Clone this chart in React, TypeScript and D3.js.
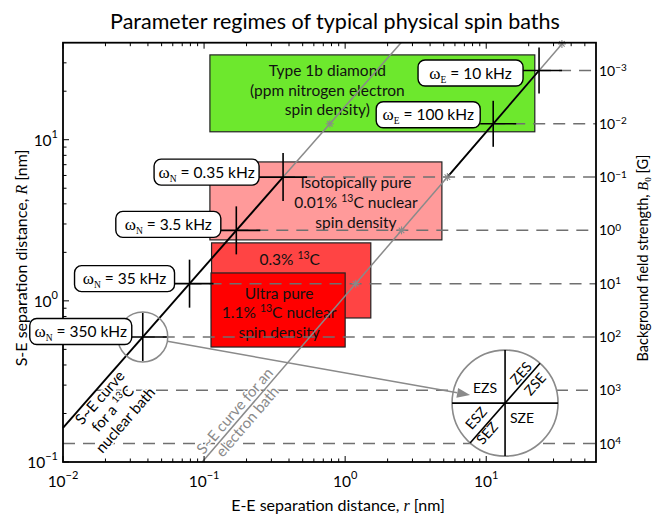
import React from 'react';
import * as d3 from 'd3';

// ---------- data ----------
const rRange = [0.01, 60]; // E-E separation r [nm]
const RRange = [0.1, 40]; // S-E separation R [nm]
const B0Range = [Math.pow(10, 4.347), Math.pow(10, -3.522)]; // background field [G]
const xTickExps = [-2, -1, 0, 1];
const yTickExps = [-1, 0, 1];
const b0Exps = [-3, -2, -1, 0, 1, 2, 3, 4];

// S-E curves (straight in log-log), endpoints (r, R)
const nuclearCurve: [number, number][] = [[0.01, 0.163], [2.49, 40]];
const electronCurve: [number, number][] = [[0.097, 0.1], [34.4, 39.3]];

const nuclearB0 = [100, 10, 1, 0.1];
const nuclearFreq = ['350 kHz', '35 kHz', '3.5 kHz', '0.35 kHz'];
const electronB0 = [0.01, 0.001];
const electronFreq = ['100 kHz', '10 kHz'];
const nuclearStarB0 = [0.01];
const electronStarB0 = [10, 1, 0.1];

const regimeKeys = ['iso', 'mid', 'ultra', 'diamond'];
const regimeRr = [[0.11, 4.85], [0.113, 1.52], [0.112, 1.0], [0.11, 22.1]];
const regimeRR = [[2.39, 7.28], [0.783, 2.29], [0.517, 1.49], [11.2, 33.6]];
const regimeText = [
  ['Isotopically pure', '0.01% ^13^C nuclear', 'spin density'],
  ['0.3% ^13^C'],
  ['Ultra pure', '1.1% ^13^C nuclear', 'spin density'],
  ['Type 1b diamond', '(ppm nitrogen electron', 'spin density)'],
];

const nuclearLabel = ['S~E curve', 'for a ^13^C', 'nuclear bath'];
const electronLabel = ['S~E curve for an', 'electron bath'];
const diagramLabels = ['EZS', 'ZES', 'ZSE', 'ESZ', 'SEZ', 'SZE'];
const diagramCenter = [13.6, 0.232]; // (r, R)

// ---------- styles / layout ----------
const FONT = 'Lato, "Open Sans", sans-serif';
const SERIF = '"Liberation Serif", serif';
const regimeStyle: Record<string, any> = {
  iso: { fill: '#ff9a9a', dx: 30, cy: 2, lh: 20 },
  mid: { fill: '#ff4444', dx: -1.5, cy: -21, lh: 20 },
  ultra: { fill: '#ff0000', dx: 1, cy: 3, lh: 19.5 },
  diamond: { fill: '#6de82d', dx: -45, cy: -3, lh: 19.5 },
};
const nLabelLayout = [
  { gap: 11, dy: -5.5, w: 102 },
  { gap: 15, dy: -5, w: 100 },
  { gap: 15.5, dy: -6, w: 105 },
  { gap: 24, dy: -5, w: 105 },
];
const eLabelLayout = [
  { gap: 13, dy: -9, w: 104 },
  { gap: 16, dy: 2.5, w: 105 },
];
const diagOffsets: Record<string, [number, number, boolean]> = {
  EZS: [-20, -15, false],
  ZES: [16, -30, true],
  ZSE: [30, -19, true],
  ESZ: [-29, 15, true],
  SEZ: [-18, 30, true],
  SZE: [17, 15, false],
};

const GRAY = '#8a8a8a';
const DASH = '#707070';

function rich(str: string, supSize: number, supDy: number) {
  const parts = str.split('^');
  const out: any[] = [];
  let shifted = false;
  parts.forEach((p, i) => {
    if (p === '') return;
    if (i % 2 === 1) {
      out.push(
        <tspan key={i} fontSize={supSize} dy={-supDy}>
          {p}
        </tspan>
      );
      shifted = true;
    } else {
      out.push(
        <tspan key={i} dy={shifted ? supDy : 0}>
          {p}
        </tspan>
      );
      shifted = false;
    }
  });
  return out;
}

export default function App() {
  const L = 63, Rr = 596, T = 42.7, B = 462;
  const x = d3.scaleLog().domain(rRange).range([L, Rr]);
  const y = d3.scaleLog().domain(RRange).range([B, T]);
  const yB = d3.scaleLog().domain(B0Range).range([B, T]);
  const lg = Math.log10;

  const rOnCurve = (c: [number, number][], Rv: number) => {
    const [[r0, R0], [r1, R1]] = c;
    const t = (lg(Rv) - lg(R0)) / (lg(R1) - lg(R0));
    return Math.pow(10, lg(r0) + t * (lg(r1) - lg(r0)));
  };
  const atB0 = (c: [number, number][], b: number): [number, number] => {
    const py = yB(b);
    const Rv = y.invert(py);
    return [x(rOnCurve(c, Rv)), py];
  };
  const px = (c: [number, number]): [number, number] => [x(c[0]), y(c[1])];
  const line = d3.line();

  const nStart = px(nuclearCurve[0]);
  const nEnd = px(nuclearCurve[1]);
  const eStart = px(electronCurve[0]);
  const eEnd = px(electronCurve[1]);
  const nAt01 = atB0(nuclearCurve, 0.1);
  const eAt01 = atB0(electronCurve, 0.1);
  const eAt0001 = atB0(electronCurve, 0.001);
  const ang = (Math.atan2(nEnd[1] - nStart[1], nEnd[0] - nStart[0]) * 180) / Math.PI;
  const angE = (Math.atan2(eEnd[1] - eStart[1], eEnd[0] - eStart[0]) * 180) / Math.PI;

  // ticks
  const xTicks: [number, boolean][] = [];
  for (let e = -2; e <= 1; e++)
    for (let k = 1; k <= 9; k++) {
      const v = k * Math.pow(10, e);
      if (v >= rRange[0] && v < rRange[1]) xTicks.push([v, k === 1]);
    }
  const yTicks: [number, boolean][] = [];
  for (let e = -1; e <= 1; e++)
    for (let k = 1; k <= 9; k++) {
      const v = k * Math.pow(10, e);
      if (v >= RRange[0] && v < RRange[1]) yTicks.push([v, k === 1]);
    }

  // dashed grid lines for B0 decades
  const dashed = b0Exps.map((e) => {
    const b = Math.pow(10, e);
    const py = yB(b);
    let sx: number;
    const ei = electronB0.findIndex((v) => Math.abs(lg(v) - e) < 1e-6);
    if (ei >= 0) sx = atB0(electronCurve, b)[0];
    else sx = Math.max(L, atB0(nuclearCurve, b)[0]);
    return { e, py, sx };
  });

  const star = (c: [number, number], k: string) => {
    const s = 4;
    return (
      <g key={k} stroke={GRAY} strokeWidth={1.1}>
        <line x1={c[0] - s} y1={c[1]} x2={c[0] + s} y2={c[1]} />
        <line x1={c[0]} y1={c[1] - s} x2={c[0]} y2={c[1] + s} />
        <line x1={c[0] - s * 0.7} y1={c[1] - s * 0.7} x2={c[0] + s * 0.7} y2={c[1] + s * 0.7} />
        <line x1={c[0] - s * 0.7} y1={c[1] + s * 0.7} x2={c[0] + s * 0.7} y2={c[1] - s * 0.7} />
      </g>
    );
  };

  const crossLabel = (c: [number, number], sub: string, txt: string, lay: any, k: string, arm: number) => {
    const bx1 = c[0] - lay.gap;
    const bx0 = bx1 - lay.w;
    const cy = c[1] + lay.dy;
    const h = 26;
    return (
      <g key={k}>
        <line x1={bx1} y1={c[1]} x2={c[0] + arm} y2={c[1]} stroke="#000" strokeWidth={1.6} />
        <line x1={c[0]} y1={c[1] - arm} x2={c[0]} y2={c[1] + arm} stroke="#000" strokeWidth={1.6} />
        <rect x={bx0} y={cy - h / 2} width={lay.w} height={h} rx={7} fill="#fff" stroke="#000" strokeWidth={1.4} />
        <text x={(bx0 + bx1) / 2} y={cy + 5.5} textAnchor="middle" fontFamily={FONT} fontSize={15.5}>
          <tspan fontFamily={SERIF} fontSize={17}>ω</tspan>
          <tspan fontFamily={SERIF} fontSize={9.5} dy={4}>{sub}</tspan>
          <tspan dy={-4}>{' = ' + txt}</tspan>
        </text>
      </g>
    );
  };

  const smallC = atB0(nuclearCurve, 100);
  const bigC: [number, number] = [x(diagramCenter[0]), y(diagramCenter[1])];
  const bigR = 53;
  const tip: [number, number] = [bigC[0] - 35, bigC[1] - 8];
  const dv = [tip[0] - smallC[0], tip[1] - smallC[1]];
  const dl = Math.hypot(dv[0], dv[1]);
  const du = [dv[0] / dl, dv[1] / dl];
  const aStart = [smallC[0] + du[0] * 25, smallC[1] + du[1] * 25];
  const ah = 13, aw = 5;
  const base = [tip[0] - du[0] * ah, tip[1] - du[1] * ah];
  const head = `${tip[0]},${tip[1]} ${base[0] - du[1] * aw},${base[1] + du[0] * aw} ${base[0] + du[1] * aw},${base[1] - du[0] * aw}`;

  const radA = (ang * Math.PI) / 180;
  const ux = Math.cos(radA), uy = Math.sin(radA);
  const nAnchor = [nStart[0] + ux * 47, nStart[1] + uy * 47];
  const radE = (angE * Math.PI) / 180;
  const eAnchor = [eStart[0] + Math.cos(radE) * 60, eStart[1] + Math.sin(radE) * 60];

  const supTick = (e: number) => (e < 0 ? '\u2212' + Math.abs(e) : String(e));

  return (
    <svg width={654} height={523} style={{ position: 'absolute', left: 0, top: 0 }} fontFamily={FONT}>
      <rect width={654} height={523} fill="#fff" />

      {/* regimes */}
      {regimeKeys.map((k, i) => {
        const x0 = x(regimeRr[i][0]), x1 = x(regimeRr[i][1]);
        const y0 = y(regimeRR[i][1]), y1 = y(regimeRR[i][0]);
        return (
          <rect key={k} x={x0} y={y0} width={x1 - x0} height={y1 - y0} fill={regimeStyle[k].fill} stroke="#222" strokeWidth={1.2} />
        );
      })}
      {regimeKeys.map((k, i) => {
        const st = regimeStyle[k];
        const x0 = x(regimeRr[i][0]), x1 = x(regimeRr[i][1]);
        const y0 = y(regimeRR[i][1]), y1 = y(regimeRR[i][0]);
        const cx = (x0 + x1) / 2 + st.dx;
        const cy = (y0 + y1) / 2 + st.cy;
        const lines = regimeText[i];
        return (
          <g key={k + 't'}>
            {lines.map((ln, j) => (
              <text key={j} x={cx} y={cy + (j - (lines.length - 1) / 2) * st.lh + 5.5} textAnchor="middle" fontSize={15.5} fill="#111">
                {rich(ln, 10.5, 6)}
              </text>
            ))}
          </g>
        );
      })}

      {/* dashed B0 lines */}
      {dashed.map((d) => (
        <line key={d.e} x1={d.sx} y1={d.py} x2={Rr} y2={d.py} stroke={DASH} strokeWidth={1.5} strokeDasharray="12,8" />
      ))}

      {/* curve labels */}
      <g transform={`translate(${nAnchor[0]},${nAnchor[1]}) rotate(${ang})`}>
        {nuclearLabel.map((t, j) => (
          <text key={j} x={0} y={13 + j * 17} textAnchor="middle" fontSize={15} fill="#000" stroke="#fff" strokeWidth={3} paintOrder="stroke">
            {rich(t, 10, 6)}
          </text>
        ))}
      </g>
      <g transform={`translate(${eAnchor[0]},${eAnchor[1]}) rotate(${angE})`}>
        {electronLabel.map((t, j) => (
          <text key={j} x={0} y={j === 0 ? -3.5 : 13} textAnchor="middle" fontSize={15} fill={GRAY} stroke="#fff" strokeWidth={2.5} paintOrder="stroke">
            {t}
          </text>
        ))}
      </g>

      {/* curves */}
      <path d={line([eStart, eEnd]) as string} stroke={GRAY} strokeWidth={1.5} fill="none" />
      <path d={line([nAt01, nEnd]) as string} stroke={GRAY} strokeWidth={1.5} fill="none" />
      <path d={line([eAt01, eAt0001]) as string} stroke="#000" strokeWidth={1.8} fill="none" />
      <path d={line([nStart, nAt01]) as string} stroke="#000" strokeWidth={1.9} fill="none" />
      {electronStarB0.map((b, i) => star(atB0(electronCurve, b), 'es' + i))}
      {star(eEnd, 'eend')}
      {nuclearStarB0.map((b, i) => star(atB0(nuclearCurve, b), 'ns' + i))}

      {/* diagram */}
      <circle cx={bigC[0]} cy={bigC[1]} r={bigR} fill="#fff" stroke={GRAY} strokeWidth={1.6} />
      <g stroke="#000" strokeWidth={1.6}>
        <line x1={bigC[0]} y1={bigC[1] - bigR} x2={bigC[0]} y2={bigC[1] + bigR} />
        <line x1={bigC[0] - bigR} y1={bigC[1]} x2={bigC[0] + bigR} y2={bigC[1]} />
        <line x1={bigC[0] - ux * bigR} y1={bigC[1] - uy * bigR} x2={bigC[0] + ux * bigR} y2={bigC[1] + uy * bigR} />
      </g>
      {diagramLabels.map((t) => {
        const [ox, oy, rot] = diagOffsets[t];
        return (
          <text key={t} transform={`translate(${bigC[0] + ox},${bigC[1] + oy}) rotate(${rot ? ang : 0})`} y={5} textAnchor="middle" fontSize={14}>
            {t}
          </text>
        );
      })}
      <circle cx={smallC[0]} cy={smallC[1]} r={25} fill="none" stroke={GRAY} strokeWidth={1.5} />
      <line x1={aStart[0]} y1={aStart[1]} x2={base[0]} y2={base[1]} stroke={GRAY} strokeWidth={1.5} />
      <polygon points={head} fill={GRAY} />

      {/* axes */}
      <rect x={L} y={T} width={Rr - L} height={B - T} fill="none" stroke="#000" strokeWidth={1.8} />
      <g stroke="#000" strokeWidth={1}>
        {xTicks.map(([v, maj], i) => (
          <g key={'xt' + i}>
            <line x1={x(v)} x2={x(v)} y1={B} y2={B - (maj ? 6 : 3.5)} />
            <line x1={x(v)} x2={x(v)} y1={T} y2={T + (maj ? 6 : 3.5)} />
          </g>
        ))}
        {yTicks.map(([v, maj], i) => (
          <line key={'yt' + i} x1={L} x2={L + (maj ? 6 : 3.5)} y1={y(v)} y2={y(v)} />
        ))}
      </g>

      {/* crosses + labels (above axes) */}
      {nuclearB0.map((b, i) => crossLabel(atB0(nuclearCurve, b), 'N', nuclearFreq[i], nLabelLayout[i], 'n' + i, 24))}
      {electronB0.map((b, i) => crossLabel(atB0(electronCurve, b), 'E', electronFreq[i], eLabelLayout[i], 'e' + i, 23))}

      {xTickExps.map((e) => (
        <text key={'xl' + e} x={x(Math.pow(10, e))} y={487} textAnchor="middle" fontSize={15.5}>
          10<tspan fontSize={11} dy={-8}>{supTick(e)}</tspan>
        </text>
      ))}
      {yTickExps.map((e) => (
        <text key={'yl' + e} x={58} y={y(Math.pow(10, e)) + 6} textAnchor="end" fontSize={15.5}>
          10<tspan fontSize={11} dy={-8}>{supTick(e)}</tspan>
        </text>
      ))}
      {b0Exps.map((e) => (
        <text key={'bl' + e} x={599} y={yB(Math.pow(10, e)) + 5} textAnchor="start" fontSize={14}>
          10<tspan fontSize={10} dy={-4.5}>{supTick(e)}</tspan>
        </text>
      ))}

      <text x={338} y={511} textAnchor="middle" fontSize={16}>
        E-E separation distance, <tspan fontFamily={SERIF} fontStyle="italic">r</tspan> [nm]
      </text>
      <text transform={`translate(27,258) rotate(-90)`} textAnchor="middle" fontSize={16}>
        S-E separation distance, <tspan fontFamily={SERIF} fontStyle="italic">R</tspan> [nm]
      </text>
      <text transform={`translate(648,258) rotate(-90)`} textAnchor="middle" fontSize={14.5}>
        Background field strength, <tspan fontFamily={SERIF} fontStyle="italic">B</tspan>
        <tspan fontFamily={SERIF} fontSize={9} dy={3}>0</tspan>
        <tspan dy={-3}> [G]</tspan>
      </text>
      <text x={335} y={29} textAnchor="middle" fontSize={21.5}>
        Parameter regimes of typical physical spin baths
      </text>
    </svg>
  );
}
